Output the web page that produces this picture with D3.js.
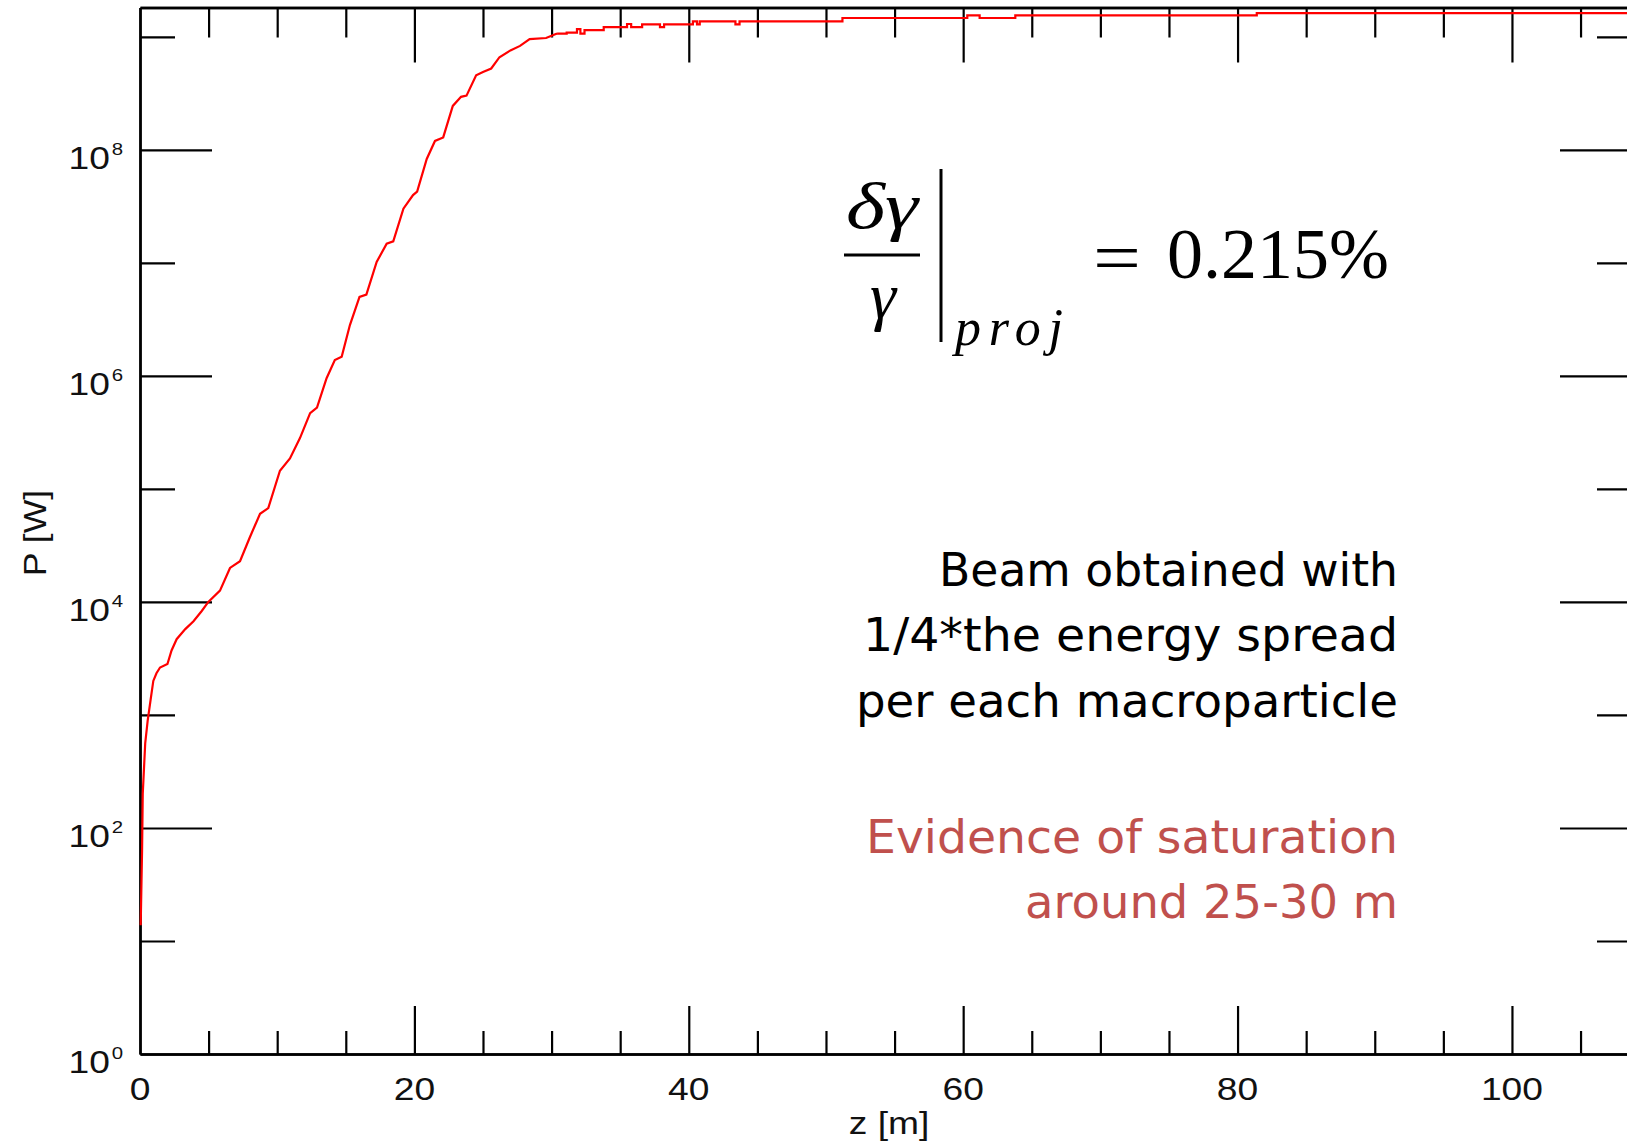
<!DOCTYPE html>
<html>
<head>
<meta charset="utf-8">
<script src="https://cdn.jsdelivr.net/npm/d3@7"></script>
<style>
  html, body { margin: 0; padding: 0; background: #ffffff; }
  svg { display: block; }
</style>
</head>
<body>
<svg id="chart" width="1627" height="1148"></svg>
<script>
// ---------------- data ----------------
// Exponential-growth part of the power curve, z [m] and P [W]
const growthZ = [0.05, 0.15, 0.2, 0.38, 0.56, 0.78, 0.97, 1.2, 1.46, 2.0, 2.3, 2.67, 3.3, 3.9, 4.5,
  4.98, 5.83, 6.56, 7.29, 8.0, 8.75, 9.35, 10.2, 10.93, 11.66, 12.4, 12.9, 13.6, 14.2, 14.7,
  15.3, 16.0, 16.5, 17.25, 17.98, 18.46, 19.2, 19.9, 20.2, 20.9, 21.5, 22.1, 22.8, 23.4, 23.8,
  24.5, 25.0, 25.6, 26.2, 27.0, 27.7, 28.4, 29.6, 30.4];
const growthP = [13.8, 63, 200, 562, 891, 1380, 2000, 2340, 2630, 2820, 3720, 4680, 5750, 6760, 8320,
  1.0e4, 1.26e4, 2.0e4, 2.29e4, 3.72e4, 6.03e4, 6.76e4, 1.45e5, 1.86e5, 2.82e5, 4.68e5, 5.25e5, 9.55e5, 1.38e6, 1.48e6,
  2.82e6, 5.01e6, 5.25e6, 1.02e7, 1.48e7, 1.55e7, 3.02e7, 3.98e7, 4.27e7, 8.32e7, 1.20e8, 1.29e8, 2.45e8, 2.95e8, 3.02e8,
  4.57e8, 4.90e8, 5.25e8, 6.61e8, 7.59e8, 8.32e8, 9.55e8, 9.77e8, 1.07e9];
// Saturation part (stepped), z [m] and P [W]
const saturationZ = [30.4, 31.1, 31.85, 32.1, 32.4, 33.8, 35.5, 35.8, 36.6, 37.9, 38.2, 40.3, 40.6, 40.8,
  43.4, 43.7, 51.2, 60.3, 61.2, 63.8, 81.4, 108.75];
const saturationP = [1.07e9, 1.09e9, 1.17e9, 1.07e9, 1.15e9, 1.22e9, 1.30e9, 1.22e9, 1.29e9, 1.22e9, 1.29e9, 1.37e9, 1.29e9, 1.37e9,
  1.29e9, 1.37e9, 1.47e9, 1.55e9, 1.47e9, 1.55e9, 1.62e9, 1.62e9];

// Axis ticks and labels
const xMajorTicks = [0, 20, 40, 60, 80, 100];
const xMinorTicks = [5, 10, 15, 25, 30, 35, 45, 50, 55, 65, 70, 75, 85, 90, 95, 105];
const xTickLabels = ["0", "20", "40", "60", "80", "100"];
const yMajorTicks = [1, 1e2, 1e4, 1e6, 1e8];
const yMinorTicks = [1e1, 1e3, 1e5, 1e7, 1e9];
const yTickExponents = ["0", "2", "4", "6", "8"];
const xDomain = [0, 108.75];
const yDomain = [1, 1.82e9];

const xTitle = "z [m]";
const yTitle = "P [W]";
const noteLines = ["Beam obtained with", "1/4*the energy spread", "per each macroparticle"];
const redLines = ["Evidence of saturation", "around 25-30 m"];

// ---------------- drawing ----------------
const svg = d3.select("#chart");
svg.append("rect").attr("width", 1627).attr("height", 1148).attr("fill", "#fff");

const plotL = 140, plotR = 1632, plotT = 7.5, plotB = 1054;
const x = d3.scaleLinear().domain(xDomain).range([plotL, plotR]);
const y = d3.scaleLog().domain(yDomain).range([plotB, plotT]);

const axisStyle = g => {
  g.selectAll("path.domain").attr("stroke", "#000").attr("stroke-width", 2.4);
  g.selectAll(".tick line").attr("stroke", "#000").attr("stroke-width", 2.2);
  g.selectAll(".tick text").remove();
};

// bottom
svg.append("g").attr("transform", `translate(0,${plotB})`)
  .call(d3.axisBottom(x).tickValues(xMajorTicks.slice(1)).tickSize(-48).tickSizeOuter(0).tickFormat(""))
  .call(axisStyle);
svg.append("g").attr("transform", `translate(0,${plotB})`)
  .call(d3.axisBottom(x).tickValues(xMinorTicks).tickSize(-23).tickSizeOuter(0).tickFormat(""))
  .call(axisStyle);
// top
svg.append("g").attr("transform", `translate(0,${plotT})`)
  .call(d3.axisTop(x).tickValues(xMajorTicks.slice(1)).tickSize(-55).tickSizeOuter(0).tickFormat(""))
  .call(axisStyle);
svg.append("g").attr("transform", `translate(0,${plotT})`)
  .call(d3.axisTop(x).tickValues(xMinorTicks).tickSize(-30).tickSizeOuter(0).tickFormat(""))
  .call(axisStyle);
// left
svg.append("g").attr("transform", `translate(${plotL},0)`)
  .call(d3.axisLeft(y).tickValues(yMajorTicks.slice(1)).tickSize(-72).tickSizeOuter(0).tickFormat(""))
  .call(axisStyle);
svg.append("g").attr("transform", `translate(${plotL},0)`)
  .call(d3.axisLeft(y).tickValues(yMinorTicks).tickSize(-35).tickSizeOuter(0).tickFormat(""))
  .call(axisStyle);
// right
svg.append("g").attr("transform", `translate(${plotR},0)`)
  .call(d3.axisRight(y).tickValues(yMajorTicks.slice(1)).tickSize(-72).tickSizeOuter(0).tickFormat(""))
  .call(axisStyle);
svg.append("g").attr("transform", `translate(${plotR},0)`)
  .call(d3.axisRight(y).tickValues(yMinorTicks).tickSize(-35).tickSizeOuter(0).tickFormat(""))
  .call(axisStyle);

// tick labels
const labelFont = "'Liberation Sans', Arial, Helvetica, sans-serif";
xMajorTicks.forEach((v, i) => {
  svg.append("g").attr("transform", `translate(${x(v)},1100) scale(1.2,1)`)
    .append("text").attr("text-anchor", "middle")
    .attr("font-family", labelFont).attr("font-size", 31).attr("fill", "#111")
    .text(xTickLabels[i]);
});
yMajorTicks.forEach((v, i) => {
  const g = svg.append("g").attr("transform", `translate(110,${y(v) + 19}) scale(1.2,1)`);
  g.append("text").attr("text-anchor", "end")
    .attr("font-family", labelFont).attr("font-size", 31).attr("fill", "#111").text("10");
  g.append("text").attr("x", 1.5).attr("y", -14)
    .attr("font-family", labelFont).attr("font-size", 17).attr("fill", "#111").text(yTickExponents[i]);
});

// axis titles
svg.append("g").attr("transform", `translate(889,1134) scale(1.2,1)`)
  .append("text").attr("text-anchor", "middle")
  .attr("font-family", labelFont).attr("font-size", 31).attr("fill", "#111").text(xTitle);
svg.append("g").attr("transform", `translate(46,533) rotate(-90) scale(1.15,1)`)
  .append("text").attr("text-anchor", "middle")
  .attr("font-family", labelFont).attr("font-size", 31).attr("fill", "#111").text(yTitle);

// curve
const growth = growthZ.map((z, i) => [z, growthP[i]]);
const saturation = saturationZ.map((z, i) => [z, saturationP[i]]);
const lineLin = d3.line().x(d => x(d[0])).y(d => y(d[1])).curve(d3.curveLinear);
const lineStep = d3.line().x(d => x(d[0])).y(d => y(d[1])).curve(d3.curveStepAfter);
svg.append("path").attr("d", lineLin(growth)).attr("fill", "none")
  .attr("stroke", "#ff0000").attr("stroke-width", 2.2).attr("stroke-linejoin", "miter");
svg.append("path").attr("d", lineStep(saturation)).attr("fill", "none")
  .attr("stroke", "#ff0000").attr("stroke-width", 2.2);

// formula  δγ/γ |_proj = 0.215%
const mathFont = "'Liberation Serif', 'DejaVu Serif', serif";
const fm = svg.append("g");
fm.append("text").attr("x", 882).attr("y", 228).attr("text-anchor", "middle")
  .attr("font-family", mathFont).attr("font-style", "italic").attr("font-size", 66)
  .attr("textLength", 72).attr("lengthAdjust", "spacingAndGlyphs").text("δγ");
fm.append("line").attr("x1", 844).attr("x2", 920).attr("y1", 255).attr("y2", 255)
  .attr("stroke", "#000").attr("stroke-width", 3);
fm.append("text").attr("x", 883).attr("y", 318).attr("text-anchor", "middle")
  .attr("font-family", mathFont).attr("font-style", "italic").attr("font-size", 66).text("γ");
fm.append("line").attr("x1", 941).attr("x2", 941).attr("y1", 169).attr("y2", 342)
  .attr("stroke", "#000").attr("stroke-width", 3);
fm.append("text").attr("x", 955).attr("y", 345)
  .attr("font-family", mathFont).attr("font-style", "italic").attr("font-size", 52)
  .attr("textLength", 108).attr("lengthAdjust", "spacing").text("proj");
fm.append("text").attr("x", 1093).attr("y", 282)
  .attr("font-family", mathFont).attr("font-size", 72)
  .attr("textLength", 48).attr("lengthAdjust", "spacingAndGlyphs").text("=");
fm.append("text").attr("x", 1167).attr("y", 278)
  .attr("font-family", mathFont).attr("font-size", 72)
  .attr("textLength", 222).attr("lengthAdjust", "spacingAndGlyphs").text("0.215%");

// annotation text
const noteFont = "'DejaVu Sans', 'Noto Sans', sans-serif";
const noteWidths = [459, 535, 542];
const noteBase = [586, 651, 717];
noteLines.forEach((t, i) => {
  svg.append("text").attr("x", 1398).attr("y", noteBase[i]).attr("text-anchor", "end")
    .attr("font-family", noteFont).attr("font-size", 46).attr("fill", "#000")
    .attr("textLength", noteWidths[i]).attr("lengthAdjust", "spacingAndGlyphs").text(t);
});
const redWidths = [532, 373];
const redBase = [853, 918];
redLines.forEach((t, i) => {
  svg.append("text").attr("x", 1398).attr("y", redBase[i]).attr("text-anchor", "end")
    .attr("font-family", noteFont).attr("font-size", 46).attr("fill", "#c0504d")
    .attr("textLength", redWidths[i]).attr("lengthAdjust", "spacingAndGlyphs").text(t);
});
</script>
</body>
</html>
